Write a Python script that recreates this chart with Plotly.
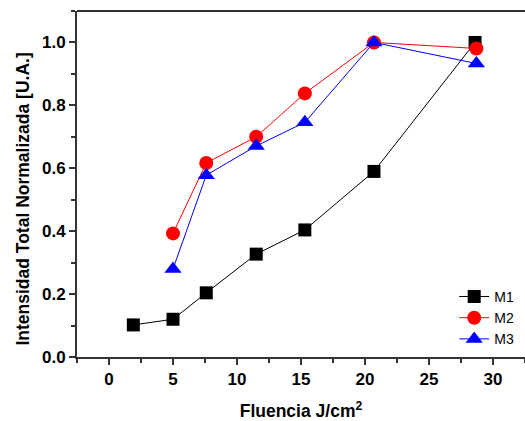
import plotly.graph_objects as go

x_m1 = [1.9, 5.0, 7.6, 11.5, 15.3, 20.7, 28.6]
y_m1 = [0.102, 0.120, 0.204, 0.327, 0.404, 0.590, 1.0]
x_m23 = [5.0, 7.6, 11.5, 15.3, 20.7, 28.7]
y_m2 = [0.393, 0.617, 0.700, 0.838, 1.0, 0.981]
y_m3 = [0.280, 0.578, 0.671, 0.746, 1.0, 0.933]

x_ticks = [0, 5, 10, 15, 20, 25, 30]
y_ticks = [0, 0.2, 0.4, 0.6, 0.8, 1.0]
y_ticklabels = ["0.0", "0.2", "0.4", "0.6", "0.8", "1.0"]

FONT = "Arial, 'Liberation Sans', sans-serif"

fig = go.Figure()
fig.add_trace(go.Scatter(x=x_m1, y=y_m1, name="M1", mode="lines+markers",
                         line=dict(color="black", width=1),
                         marker=dict(symbol="square", size=13, color="black")))
fig.add_trace(go.Scatter(x=x_m23, y=y_m2, name="M2", mode="lines+markers",
                         line=dict(color="red", width=1),
                         marker=dict(symbol="circle", size=14, color="red")))
fig.add_trace(go.Scatter(x=x_m23, y=y_m3, name="M3", mode="lines+markers",
                         line=dict(color="blue", width=1),
                         marker=dict(symbol="triangle-up", size=15, color="blue")))

fig.update_layout(
    width=525, height=421,
    margin=dict(l=77, r=0, t=11, b=64),
    plot_bgcolor="white", paper_bgcolor="white",
    font=dict(family=FONT, color="black"),
    showlegend=True,
    legend=dict(x=0.842, y=0.22, xanchor="left", yanchor="top",
                bgcolor="rgba(0,0,0,0)", font=dict(size=14, family=FONT),
                tracegroupgap=0, itemsizing="trace"),
    xaxis=dict(range=[-2.5, 32.5], tickvals=x_ticks,
               ticktext=["<b>%d</b>" % v for v in x_ticks],
               showgrid=False, zeroline=False, showline=True, linecolor="#333",
               linewidth=2, mirror=False, ticks="outside", ticklen=6, tickwidth=1.5,
               tickcolor="#333",
               minor=dict(tickvals=[-2.5, 2.5, 7.5, 12.5, 17.5, 22.5, 27.5, 32.5],
                          ticks="outside", ticklen=4, tickwidth=1.5, tickcolor="#333"),
               tickfont=dict(size=17, family=FONT),
               title=dict(text="<b>Fluencia J/cm<sup>2</sup></b>", font=dict(size=17.5, family=FONT),
                          standoff=18)),
    yaxis=dict(range=[0, 1.1], tickvals=y_ticks,
               ticktext=["<b>%s</b>" % t for t in y_ticklabels],
               showgrid=False, zeroline=False, showline=True, linecolor="#333",
               linewidth=2, ticks="outside", ticklen=6, tickwidth=1.5, tickcolor="#333",
               minor=dict(tickvals=[0.1, 0.3, 0.5, 0.7, 0.9, 1.1],
                          ticks="outside", ticklen=4, tickwidth=1.5, tickcolor="#333"),
               tickfont=dict(size=17, family=FONT)),
    annotations=[dict(text="<b>Intensidad Total Normalizada [U.A.]</b>",
                      xref="paper", yref="paper", x=-0.1205, y=0.455,
                      xanchor="center", yanchor="middle", textangle=-90,
                      showarrow=False, font=dict(size=17.5, family=FONT))],
)
# top border line
fig.add_shape(type="line", xref="paper", yref="paper", x0=0, x1=1, y0=1, y1=1,
              line=dict(color="#333", width=2))

fig.write_html("out.html")
